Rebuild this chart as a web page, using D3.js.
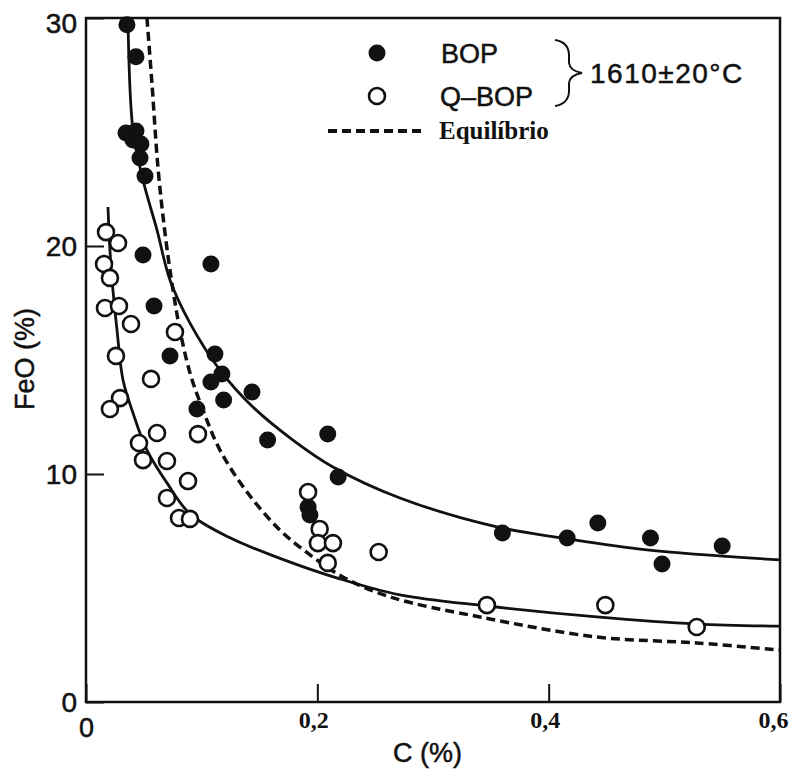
<!DOCTYPE html>
<html>
<head>
<meta charset="utf-8">
<script src="https://cdn.jsdelivr.net/npm/d3@7"></script>
<style>
  body { margin: 0; background: #fff; }
  svg { display: block; }
</style>
</head>
<body>
<svg id="chart"></svg>
<script>
// BOP (filled) points: [C %, FeO %]
const bopPoints = [
  [0.0354, 29.7], [0.0432, 28.3], [0.0346, 24.96], [0.0432, 25.04], [0.0406, 24.65],
  [0.0475, 24.47], [0.0467, 23.86], [0.051, 23.07], [0.0493, 19.61], [0.108, 19.21],
  [0.0588, 17.37], [0.0726, 15.18], [0.1115, 15.26], [0.1175, 14.39], [0.108, 14.04],
  [0.1435, 13.6], [0.119, 13.25], [0.0959, 12.85], [0.209, 11.75], [0.157, 11.49],
  [0.218, 9.87], [0.192, 8.55], [0.1936, 8.2], [0.36, 7.41], [0.416, 7.19],
  [0.4425, 7.85], [0.488, 7.19], [0.498, 6.05], [0.55, 6.84]
];

// Q-BOP (open) points
const qbopPoints = [
  [0.0173, 20.61], [0.0277, 20.13], [0.0156, 19.21], [0.0207, 18.6], [0.0164, 17.28],
  [0.0285, 17.37], [0.0389, 16.58], [0.0769, 16.23], [0.0259, 15.18], [0.0562, 14.17],
  [0.0294, 13.33], [0.0207, 12.85], [0.0614, 11.8], [0.0968, 11.75], [0.0458, 11.36],
  [0.0493, 10.61], [0.07, 10.57], [0.0882, 9.69], [0.07, 8.95], [0.0804, 8.07],
  [0.0899, 8.03], [0.192, 9.21], [0.202, 7.59], [0.2005, 6.97], [0.2135, 6.97],
  [0.209, 6.1], [0.253, 6.58], [0.3466, 4.25], [0.449, 4.25], [0.528, 3.29]
];

// fitted curves
const bopCurve = [
  [0.0363, 30.0], [0.0406, 25.09], [0.0493, 22.89], [0.0614, 20.7], [0.0726, 18.51],
  [0.0899, 16.62], [0.1158, 14.56], [0.1443, 12.94], [0.1789, 11.49], [0.2135, 10.31],
  [0.2714, 8.95], [0.3552, 7.68], [0.4123, 7.19], [0.4849, 6.67], [0.6, 6.23]
];
const qbopCurve = [
  [0.019, 21.71], [0.0207, 19.82], [0.0225, 18.51], [0.0268, 16.32], [0.032, 14.12],
  [0.0406, 12.68], [0.0527, 11.05], [0.07, 9.61], [0.0899, 8.25], [0.1245, 7.2],
  [0.1677, 6.3], [0.2195, 5.4], [0.2714, 4.7], [0.3466, 4.21], [0.4417, 3.73],
  [0.528, 3.42], [0.6, 3.33]
];
const equilibriumCurve = [
  [0.0527, 30.0], [0.057, 27.15], [0.0622, 23.46], [0.0683, 20.57], [0.0752, 18.07],
  [0.0812, 16.32], [0.0899, 14.43], [0.1011, 12.81], [0.1158, 11.05], [0.1392, 9.21],
  [0.1677, 7.54], [0.1962, 6.36], [0.2221, 5.48], [0.2627, 4.61], [0.3405, 3.73],
  [0.4417, 2.85], [0.528, 2.59], [0.6, 2.28]
];

const xTicks = [0, 0.2, 0.4, 0.6];
const yTicks = [0, 10, 20, 30];
const legendLabels = ["BOP", "Q\u2013BOP", "Equil\u00edbrio"];
const tempLabel = "1610\u00b120\u00b0C";

const width = 790, height = 769;
const sans = "'Liberation Sans', Arial, sans-serif";
const serif = "'Liberation Serif', 'Times New Roman', serif";
const ink = "#111";

const x = d3.scaleLinear().domain([0, 0.6]).range([86, 780]);
const y = d3.scaleLinear().domain([0, 30]).range([702, 18]);

const svg = d3.select("#chart")
    .attr("width", width)
    .attr("height", height);

// sans labels in the scan look a bit heavy, thicken them slightly
function sansText(sel, size) {
    return sel.attr("font-family", sans)
        .attr("font-size", size)
        .attr("fill", ink)
        .attr("stroke", ink)
        .attr("stroke-width", 0.5);
}

// frame
svg.append("rect")
    .attr("x", x(0))
    .attr("y", y(30))
    .attr("width", x(0.6) - x(0))
    .attr("height", y(0) - y(30))
    .attr("fill", "none")
    .attr("stroke", ink)
    .attr("stroke-width", 2.5);

// x axis, ticks point inward
const xAxis = svg.append("g")
    .attr("transform", `translate(0,${y(0)})`)
    .call(d3.axisBottom(x)
        .tickValues(xTicks)
        .tickSize(-18)
        .tickPadding(10)
        .tickFormat(d => d === 0 ? "0" : d3.format(".1f")(d).replace(".", ",")));
xAxis.select(".domain").remove();
xAxis.selectAll(".tick line").attr("stroke", ink).attr("stroke-width", 2);
xAxis.selectAll(".tick text")
    .attr("fill", ink)
    .attr("font-family", d => d === 0 ? sans : serif)
    .attr("font-weight", d => d === 0 ? "normal" : "bold")
    .attr("font-size", d => d === 0 ? 27 : 24)
    .attr("stroke", d => d === 0 ? ink : null)
    .attr("stroke-width", d => d === 0 ? 0.5 : null)
    .attr("dy", d => d === 0 ? "25px" : "16px")
    .attr("dx", d => d === 0.6 ? -7 : (d === 0 ? 0 : -4));

// y axis
const yAxis = svg.append("g")
    .attr("transform", `translate(${x(0)},0)`)
    .call(d3.axisLeft(y)
        .tickValues(yTicks)
        .tickSize(-18)
        .tickPadding(9));
yAxis.select(".domain").remove();
yAxis.selectAll(".tick line").attr("stroke", ink).attr("stroke-width", 2);
sansText(yAxis.selectAll(".tick text"), 28)
    .attr("dy", d => d === 30 ? "0.5em" : "0.35em");

// axis titles
sansText(svg.append("text"), 27)
    .attr("x", 393)
    .attr("y", 762)
    .text("C (%)");

sansText(svg.append("text"), 27)
    .attr("transform", "translate(34,359) rotate(-90)")
    .attr("text-anchor", "middle")
    .text("FeO (%)");

// curves
const line = d3.line()
    .x(d => x(d[0]))
    .y(d => y(d[1]))
    .curve(d3.curveCatmullRom.alpha(0.5));

svg.append("path")
    .attr("d", line(equilibriumCurve))
    .attr("fill", "none")
    .attr("stroke", ink)
    .attr("stroke-width", 3.5)
    .attr("stroke-dasharray", "9,5");

svg.append("path")
    .attr("d", line(bopCurve))
    .attr("fill", "none")
    .attr("stroke", ink)
    .attr("stroke-width", 2.8);

svg.append("path")
    .attr("d", line(qbopCurve))
    .attr("fill", "none")
    .attr("stroke", ink)
    .attr("stroke-width", 2.8);

// points
svg.append("g")
  .selectAll("circle")
  .data(bopPoints)
  .join("circle")
    .attr("cx", d => x(d[0]))
    .attr("cy", d => y(d[1]))
    .attr("r", 8.5)
    .attr("fill", ink);

svg.append("g")
  .selectAll("circle")
  .data(qbopPoints)
  .join("circle")
    .attr("cx", d => x(d[0]))
    .attr("cy", d => y(d[1]))
    .attr("r", 8)
    .attr("fill", "#fff")
    .attr("stroke", ink)
    .attr("stroke-width", 2.6);

// legend
const legend = svg.append("g");
legend.append("circle")
    .attr("cx", 377).attr("cy", 53).attr("r", 8.5)
    .attr("fill", ink);
legend.append("circle")
    .attr("cx", 377).attr("cy", 96).attr("r", 8)
    .attr("fill", "#fff").attr("stroke", ink).attr("stroke-width", 2.6);
legend.append("line")
    .attr("x1", 328).attr("x2", 425)
    .attr("y1", 131).attr("y2", 131)
    .attr("stroke", ink)
    .attr("stroke-width", 4)
    .attr("stroke-dasharray", "9,5");

sansText(legend.append("text"), 27)
    .attr("x", 441).attr("y", 63)
    .text(legendLabels[0]);
sansText(legend.append("text"), 27)
    .attr("x", 440).attr("y", 106)
    .text(legendLabels[1]);
legend.append("text")
    .attr("x", 439).attr("y", 139)
    .attr("font-family", serif).attr("font-weight", "bold")
    .attr("font-size", 25).attr("fill", ink)
    .text(legendLabels[2]);

// curly brace
const brace = d3.path();
brace.moveTo(555, 40);
brace.quadraticCurveTo(568, 42, 569, 54);
brace.lineTo(569, 63);
brace.quadraticCurveTo(570, 71, 582, 73);
brace.quadraticCurveTo(570, 75, 569, 83);
brace.lineTo(569, 92);
brace.quadraticCurveTo(568, 104, 555, 106);
legend.append("path")
    .attr("d", brace.toString())
    .attr("fill", "none")
    .attr("stroke", ink)
    .attr("stroke-width", 2);

sansText(legend.append("text"), 28)
    .attr("x", 590).attr("y", 83)
    .attr("letter-spacing", 1.5)
    .text(tempLabel);
</script>
</body>
</html>
